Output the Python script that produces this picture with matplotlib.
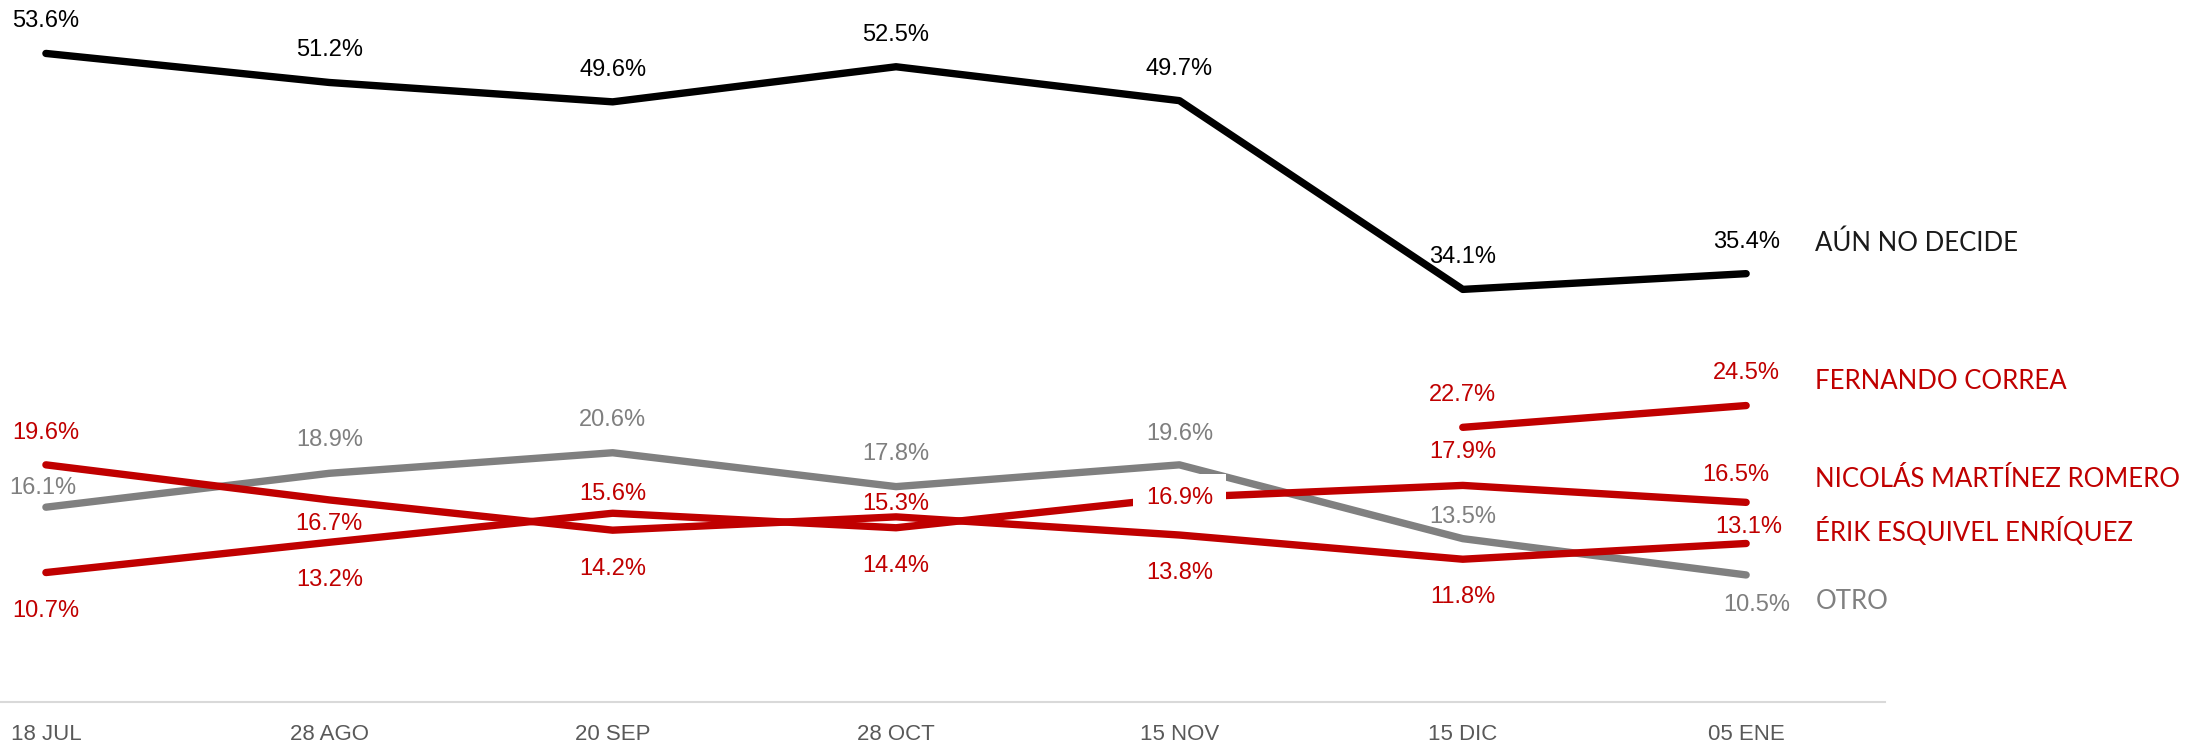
import numpy as np
import matplotlib.pyplot as plt

#data
fechas = ["18 JUL", "28 AGO", "20 SEP", "28 OCT", "15 NOV", "15 DIC", "05 ENE"]
no_decide = [53.6, 51.2, 49.6, 52.5, 49.7, 34.1, 35.4]
otro = [16.1, 18.9, 20.6, 17.8, 19.6, 13.5, 10.5]
erik = [19.6, 16.7, 14.2, 15.3, 13.8, 11.8, 13.1]
nicolas = [10.7, 13.2, 15.6, 14.4, 16.9, 17.9, 16.5]
fernando = [22.7, 24.5]   # only 15 DIC and 05 ENE
fernando_idx = [5, 6]

ROJO = "#C00000"
GRIS = "#808080"
NUM_FONT = ["Liberation Sans", "DejaVu Sans"]
NAME_FONT = ["Lato", "DejaVu Sans"]

# label offsets in pixels (dx, dy) with dy positive = down, as in the picture
off_black = [(0, -32)] * 7
off_otro = [(-3, -19), (0, -33), (0, -33), (0, -33), (0, -31), (0, -22), (11, 30)]
off_erik = [(0, -32), (0, 24), (0, 39), (0, -13), (0, 38), (0, 38), (3, -16)]
off_nicolas = [(0, 38), (0, 38), (0, -19), (0, 38), (0, 0), (0, -33), (-10, -27)]
off_fernando = [(0, -32), (0, -33)]

fig = plt.figure(figsize=(21.93, 7.49), dpi=100)
ax = fig.add_axes([0, 47 / 749, 1885 / 2193, 677.6 / 749])

x = np.arange(len(fechas))
lw = 5.3
kw = dict(solid_capstyle="round", solid_joinstyle="round")
ax.plot(x, no_decide, color="black", lw=lw, zorder=3, **kw)
ax.plot(x, otro, color=GRIS, lw=lw, zorder=3, **kw)
ax.plot(x, erik, color=ROJO, lw=lw, zorder=4, **kw)
ax.plot(x, nicolas, color=ROJO, lw=lw, zorder=4, **kw)
ax.plot(fernando_idx, fernando, color=ROJO, lw=lw, zorder=4, **kw)


def etiquetas(xs, ys, offs, color, box_at=None):
    for i, (xi, yi, (dx, dy)) in enumerate(zip(xs, ys, offs)):
        bbox = None
        if box_at is not None and i == box_at:
            bbox = dict(boxstyle="square,pad=0.55", fc="white", ec="none")
        ax.annotate(f"{yi:.1f}%", (xi, yi), xytext=(dx, -dy), textcoords="offset pixels",
                    ha="center", va="center", fontsize=17, color=color,
                    family=NUM_FONT, zorder=6, bbox=bbox)


etiquetas(x, no_decide, off_black, "black")
etiquetas(x, otro, off_otro, "#7F7F7F")
etiquetas(x, erik, off_erik, ROJO)
etiquetas(x, nicolas, off_nicolas, ROJO, box_at=4)
etiquetas(fernando_idx, fernando, off_fernando, ROJO)

# series names on the right
nombres = ["AÚN NO DECIDE", "FERNANDO CORREA", "NICOLÁS MARTÍNEZ ROMERO", "ÉRIK ESQUIVEL ENRÍQUEZ", "OTRO"]
colores = ["#1A1A1A", ROJO, ROJO, ROJO, GRIS]
nombre_y = [37.9, 26.5, 18.4, 14.1, 8.3]
for n, c, yy in zip(nombres, colores, nombre_y):
    ax.text(6.244, yy, n, color=c, fontsize=18.5, family=NAME_FONT, ha="left", va="center",
            clip_on=False)

ax.set_xlim(-0.162, 6.49)
ax.set_ylim(0, 56)
ax.set_xticks(x)
ax.set_xticklabels(fechas, fontsize=16, color="#595959", family=NUM_FONT)
ax.tick_params(axis="x", length=0, pad=16)
ax.set_yticks([])
for s in ["top", "right", "left"]:
    ax.spines[s].set_visible(False)
ax.spines["bottom"].set_color("#D9D9D9")
ax.spines["bottom"].set_linewidth(1.5)

plt.savefig("out.png", dpi=100)
